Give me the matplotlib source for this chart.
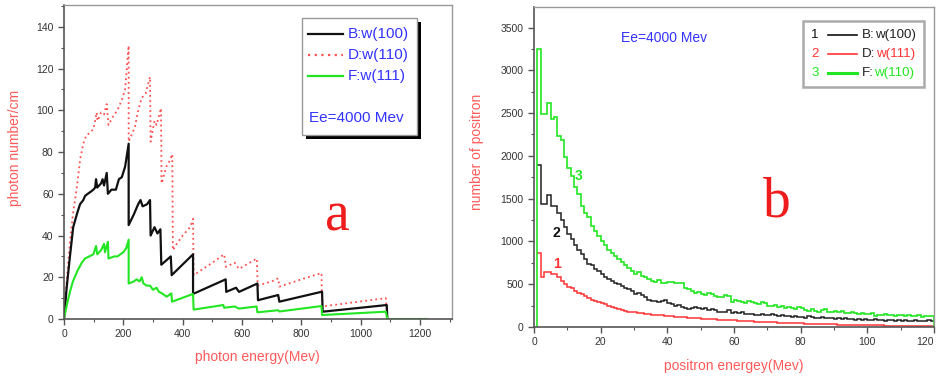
import numpy as np
import matplotlib
matplotlib.use("Agg")
import matplotlib.pyplot as plt
from matplotlib.patches import Rectangle
from matplotlib.lines import Line2D
from matplotlib.ticker import MultipleLocator

plt.rcParams['font.family'] = ['Liberation Sans', 'DejaVu Sans']

# ---------------- Panel a data ----------------
b100_x = [0, 9, 20, 31, 45, 54, 65, 71, 80, 90, 99, 105, 108, 112, 125, 130, 135, 144, 148, 160,
          175, 185, 195, 206, 218, 218, 235, 250, 258, 265, 280, 290, 292, 305, 315, 325, 328, 360, 363, 435,
          435, 545, 547, 580, 590, 652, 654, 722, 726, 870, 872, 1088, 1090]
b100_y = [0, 15, 30, 44, 51, 55, 57, 59, 60, 61, 62, 63, 67, 63, 65, 67, 64, 70, 60, 62,
          62, 67, 68, 73, 84, 45, 50, 55, 57, 54, 55, 57, 40, 44, 41, 43, 26, 30, 21, 31,
          12, 19, 13, 15, 13, 17, 9, 11.5, 8.3, 13.1, 3.5, 6.7, 0]

d110_x = [0, 10, 20, 30, 43, 55, 65, 75, 85, 99, 105, 110, 113, 125, 135, 144, 150, 165, 180, 195,
          206, 218, 218, 239, 250, 262, 275, 290, 292, 305, 312, 327, 329, 345, 357, 365, 367, 380, 400, 425,
          435, 437, 490, 540, 546, 575, 590, 650, 653, 700, 722, 726, 800, 868, 870, 1085, 1090]
d110_y = [0, 20, 37, 50, 63, 77, 84, 88, 89, 91, 95, 99, 95, 99, 98, 103, 93, 97, 100, 105,
          110, 131, 85, 92, 100, 106, 108, 116, 85, 95, 93, 101, 65, 73, 76, 79, 33, 36, 40, 44,
          48, 21, 26, 31, 25, 27, 24, 29, 16, 18, 19.5, 15.5, 19, 22, 6, 10, 0]

f111_x = [0, 10, 20, 30, 45, 60, 71, 85, 99, 108, 112, 125, 135, 138, 148, 150, 170, 180, 200, 210,
          218, 218, 235, 245, 255, 262, 268, 279, 290, 300, 312, 320, 328, 346, 362, 364, 435, 437, 537, 540,
          575, 590, 649, 652, 722, 726, 868, 870, 1085, 1090, 1225]
f111_y = [0, 7, 13, 18, 23, 27, 29, 30, 31, 35, 31, 33, 36, 32, 37, 29, 30, 30, 32, 34,
          38, 17, 18, 19, 18, 20, 17, 16, 16, 14, 15, 13, 12.5, 10.7, 12.3, 8.3, 12, 4.5, 6.7, 5.4,
          6, 5, 6, 3.2, 4.2, 3.6, 6.2, 1.9, 3.5, 0, 0]

# ---------------- Panel b data (1 MeV bins from 1 to 120 MeV) ----------------
pos_edges = np.arange(1, 121)
pos_b100 = [1890, 1440, 1440, 1540, 1420, 1420, 1330, 1250, 1170, 1090,
            1030, 960, 900, 850, 800, 740, 720, 680, 650, 620,
            580, 560, 540, 520, 500, 480, 460, 440, 420, 390,
            400, 370, 350, 320, 300, 300, 290, 300, 310, 280,
            270, 250, 260, 230, 220, 215, 220, 230, 220, 215,
            220, 200, 210, 200, 180, 175, 170, 200, 165, 180,
            160, 170, 150, 155, 150, 145, 140, 150, 145, 135,
            150, 140, 130, 135, 125, 130, 120, 125, 115, 120,
            110, 125, 115, 105, 110, 120, 105, 100, 110, 95,
            105, 95, 100, 90, 95, 85, 95, 85, 90, 85,
            80, 90, 80, 85, 75, 80, 85, 75, 80, 70,
            80, 75, 70, 80, 75, 70, 75, 80, 75]
pos_d111 = [860, 590, 640, 640, 620, 620, 580, 540, 500, 470,
            450, 420, 400, 380, 360, 340, 320, 300, 290, 280,
            270, 250, 235, 225, 210, 200, 190, 180, 175, 170,
            165, 160, 155, 150, 145, 140, 140, 135, 130, 130,
            125, 120, 118, 115, 112, 110, 105, 102, 100, 98,
            95, 92, 90, 88, 85, 82, 80, 78, 78, 76,
            74, 72, 70, 68, 66, 64, 62, 60, 58, 56,
            55, 53, 52, 50, 48, 47, 46, 44, 42, 41,
            40, 38, 37, 36, 35, 34, 33, 32, 31, 30,
            29, 28, 27, 26, 25, 24, 23, 22, 21, 20,
            20, 19, 18, 18, 17, 16, 16, 15, 15, 14,
            14, 13, 13, 12, 12, 11, 11, 10, 10]
pos_f110 = [3250, 2490, 2490, 2620, 2430, 2450, 2230, 2180, 1990, 1860,
            1760, 1640, 1560, 1420, 1330, 1290, 1180, 1120, 1060, 1010,
            960, 900, 870, 830, 790, 760, 730, 690, 660, 620,
            640, 600, 580, 560, 540, 530, 545, 520, 520, 525,
            525, 520, 520, 520, 450, 440, 420, 400, 410, 380,
            370, 400, 390, 360, 350, 350, 370, 360, 290, 310,
            300, 290, 280, 300, 290, 280, 270, 290, 280, 250,
            240, 260, 230, 240, 220, 235, 225, 215, 230, 220,
            200, 190, 210, 190, 180, 195, 210, 180, 175, 190,
            170, 185, 165, 160, 175, 160, 150, 165, 155, 150,
            160, 130, 145, 140, 150, 135, 140, 130, 140, 135,
            130, 140, 125, 130, 135, 120, 130, 125, 130]

BLACK = '#111111'
RED = '#ff5050'
GREEN = '#22e622'
BLUE = '#3333ff'
LABRED = '#ff5a5a'

fig = plt.figure(figsize=(9.38, 3.77), dpi=100)

def style_axes(ax):
    for s in ['left', 'bottom']:
        ax.spines[s].set_color('#555555')
        ax.spines[s].set_linewidth(1.2)
    for s in ['top', 'right']:
        ax.spines[s].set_color('#999999')
        ax.spines[s].set_linewidth(1.0)
    ax.tick_params(which='both', direction='out', colors='#555555', labelcolor='#333333', labelsize=7.5)
    ax.tick_params(which='major', length=4, width=1)
    ax.tick_params(which='minor', length=2.5, width=0.8)

# ---------------- Panel a ----------------
axa = fig.add_axes([64/938, 1-319/377, 388/938, 314/377])
axa.plot(d110_x, d110_y, color=RED, lw=1.3, ls=(0, (1, 1.8)))
axa.plot(b100_x, b100_y, color=BLACK, lw=1.6)
axa.plot(f111_x, f111_y, color=GREEN, lw=1.5)
axa.set_xlim(0, 1308)
axa.set_ylim(0, 150.5)
axa.xaxis.set_major_locator(MultipleLocator(200))
axa.xaxis.set_minor_locator(MultipleLocator(100))
axa.yaxis.set_major_locator(MultipleLocator(20))
axa.yaxis.set_minor_locator(MultipleLocator(10))
style_axes(axa)

# legend box with shadow
T = axa.transAxes
dx, dy = 4/388, 4/314
axa.add_patch(Rectangle((0.613+dx, 0.586-dy), 0.297, 0.373, transform=T,
                        facecolor='black', edgecolor='none', zorder=5, clip_on=False))
axa.add_patch(Rectangle((0.613, 0.586), 0.297, 0.373, transform=T,
                        facecolor='white', edgecolor='#999999', lw=1, zorder=6, clip_on=False))
leg_a = [("B:w(100)", BLACK, '-', 0.908), ("D:w(110)", RED, (0, (1, 2)), 0.841), ("F:w(111)", GREEN, '-', 0.774)]
for lab, c, ls, yy in leg_a:
    axa.add_line(Line2D([0.629, 0.719], [yy, yy], transform=T, color=c, ls=ls, lw=1.6, zorder=7))
    axa.text(0.732, yy, lab, transform=T, color=BLUE, fontsize=11, va='center', ha='left', zorder=7)
axa.text(0.631, 0.640, "Ee=4000 Mev", transform=T, color=BLUE, fontsize=11, va='center', ha='left', zorder=7)
axa.text(0.704, 0.325, "a", transform=T, color='#ee1c1c', fontsize=40, family='Liberation Serif',
         ha='center', va='center')

fig.text(15/938, 0.607, "photon number/cm", rotation=90, color=LABRED, fontsize=10, ha='center', va='center')
fig.text(0.2745, 0.053, "photon energy(Mev)", color=LABRED, fontsize=10, ha='center', va='center')

# ---------------- Panel b ----------------
axb = fig.add_axes([534/938, 1-327/377, 400/938, 320/377])
axb.stairs(pos_d111, pos_edges, color='#ff3333', lw=1.1, baseline=None)
axb.stairs(pos_b100, pos_edges, color='#222222', lw=1.1, baseline=None)
axb.stairs(pos_f110, pos_edges, color=GREEN, lw=1.2, baseline=0)
axb.set_xlim(0, 120)
axb.set_ylim(0, 3740)
axb.xaxis.set_major_locator(MultipleLocator(20))
axb.xaxis.set_minor_locator(MultipleLocator(10))
axb.yaxis.set_major_locator(MultipleLocator(500))
axb.yaxis.set_minor_locator(MultipleLocator(250))
style_axes(axb)
fig.canvas.draw()
xt_labels = axb.get_xticklabels()
for lbl in xt_labels:
    if lbl.get_text() == '120':
        lbl.set_horizontalalignment('right')

Tb = axb.transAxes
axb.add_patch(Rectangle((0.6725, 0.75), 0.3025, 0.206, transform=Tb,
                        facecolor='white', edgecolor='#aaaaaa', lw=1.8, zorder=6))
leg_b = [("1", "B:", "w(100)", BLACK, '#222222', 1.2, 0.9125),
         ("2", "D:", "w(111)", '#ff3333', '#ff3333', 1.2, 0.853),
         ("3", "F:", "w(110)", GREEN, GREEN, 2.2, 0.794)]
for num, pre, lab, c, tc, lw, yy in leg_b:
    axb.text(0.7025, yy, num, transform=Tb, color=c, fontsize=9.6, ha='center', va='center', zorder=7)
    axb.add_line(Line2D([0.735, 0.8075], [yy, yy], transform=Tb, color=c, lw=lw, zorder=7))
    t = axb.text(0.82, yy, pre, transform=Tb, color='#222222', fontsize=9.6, ha='left', va='center', zorder=7)
    axb.annotate(lab, xy=(1, 0.5), xycoords=t, xytext=(0.3, 0), textcoords='offset points',
                 color=tc, fontsize=9.6, ha='left', va='center', zorder=7)
axb.text(0.326, 0.903, "Ee=4000 Mev", transform=Tb, color=BLUE, fontsize=10, ha='center', va='center')
axb.text(13.4, 1760, "3", color=GREEN, fontsize=10, fontweight='bold', ha='center', va='center')
axb.text(6.7, 1096, "2", color=BLACK, fontsize=10, fontweight='bold', ha='center', va='center')
axb.text(7.0, 733, "1", color='#ff3333', fontsize=10, fontweight='bold', ha='center', va='center')
axb.text(0.608, 0.39, "b", transform=Tb, color='#ee1c1c', fontsize=40, family='Liberation Serif',
         ha='center', va='center')

fig.text(477/938, 0.598, "number of positron", rotation=90, color=LABRED, fontsize=10, ha='center', va='center')
fig.text(0.7825, 0.029, "positron energey(Mev)", color=LABRED, fontsize=10, ha='center', va='center')

fig.savefig("out.png", dpi=100)
